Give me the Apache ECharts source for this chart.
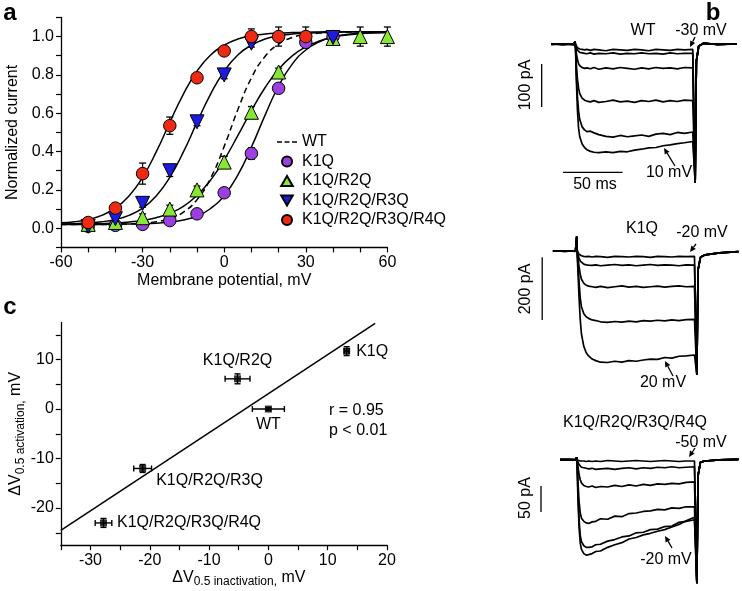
<!DOCTYPE html>
<html><head><meta charset="utf-8">
<script src="https://cdn.jsdelivr.net/npm/echarts@6/dist/echarts.min.js"></script>
<style>html,body{margin:0;padding:0;background:#fff}#c{width:742px;height:591px}</style>
</head><body><div id="c"></div>
<script>
const FONT = "'Liberation Sans', Arial, Helvetica, sans-serif";

// ---------- Panel a: normalized current vs membrane potential ----------
const vSteps = [-50,-40,-30,-20,-10,0,10,20,30,40,50,60];
const k1q          = [0.01,0.015,0.02,0.04,0.075,0.185,0.39,0.73,0.97,1.0,null,null];
const k1qErr       = [0.01,0.01,0.01,0.01,0.01,0.015,0.03,0.02,0.02,0.02,null,null];
const k1qR2q       = [0.02,0.03,0.055,0.10,0.20,0.345,0.605,0.815,null,0.99,1.0,1.0];
const k1qR2qErr    = [0.01,0.01,0.02,0.02,0.02,0.03,0.03,0.02,null,0.02,0.05,0.05];
const k1qR2qR3q    = [0.01,0.05,0.13,0.30,0.555,0.80,0.965,null,null,0.995,null,null];
const k1qR2qR3qErr = [0.01,0.01,0.02,0.03,0.02,0.02,0.02,null,null,0.02,null,null];
const k1qR2qR3qR4q    = [0.03,0.105,0.285,0.535,0.785,0.925,1.0,1.0,1.0,null,null,null];
const k1qR2qR3qR4qErr = [0.01,0.01,0.055,0.045,0.02,0.01,0.04,0.05,0.05,null,null,null];

const vFit = [-60,-55,-50,-45,-40,-35,-30,-25,-20,-15,-10,-5,0,5,10,15,20,25,30,35,40,45,50,55,60];
const wtFit   = [0.02,0.02,0.02,0.02,0.021,0.023,0.027,0.034,0.05,0.084,0.149,0.261,0.427,0.618,0.784,0.896,0.961,0.995,1.011,1.018,1.022,1.024,1.025,1.025,1.025];
const k1qFit  = [0.02,0.02,0.02,0.02,0.021,0.022,0.023,0.026,0.032,0.043,0.064,0.103,0.171,0.277,0.423,0.589,0.742,0.856,0.93,0.973,0.998,1.011,1.018,1.021,1.023];
const k1qR2qFit = [0.021,0.022,0.023,0.024,0.027,0.033,0.041,0.055,0.078,0.114,0.171,0.251,0.357,0.483,0.614,0.733,0.829,0.899,0.946,0.977,0.996,1.008,1.015,1.019,1.021];
const k1qR2qR3qFit = [0.022,0.024,0.028,0.034,0.046,0.067,0.105,0.168,0.265,0.398,0.552,0.7,0.82,0.904,0.955,0.987,1.004,1.013,1.018,1.021,1.023,1.024,1.025,1.025,1.025];
const k1qR2qR3qR4qFit = [0.028,0.034,0.046,0.067,0.105,0.168,0.265,0.398,0.552,0.7,0.82,0.904,0.955,0.987,1.004,1.013,1.018,1.021,1.023,1.024,1.025,1.025,1.025,1.025,1.025];

// ---------- Panel c: dV0.5 activation vs dV0.5 inactivation ----------
const cNames   = ['K1Q','K1Q/R2Q','WT','K1Q/R2Q/R3Q','K1Q/R2Q/R3Q/R4Q'];
const dInact    = [13.2,-5.2,0,-21.2,-27.8];
const dInactErr = [0.4,2.1,2.7,1.5,1.4];
const dAct      = [11.7,6.1,0,-12,-23];
const dActErr   = [0.9,1.0,0.3,0.8,0.9];
const regLine   = [[-35,-24.5],[18,17.3]];

// ---------- Panel b: current traces (time ms, current pA) ----------
const tWT = [-20,-10,-1,0,0.5,1,2,3,4,6,8,10,13,16,20,26,32,38,44,50,56,62,68,74,80,86,92,99,100,101,102,104,108,120,136];
const wt1 = [1,-1,1,6,0,-4,-8,-10,-11,-12,-13,-12,-14,-12,-13,-15,-12,-13,-14,-12,-13,-15,-12,-13,-14,-12,-13,-12,-12,-322,-40,-4,3,-1,1];
const wt2 = [0,1,-1,6,-1,-7,-13,-17,-19,-20,-21,-22,-20,-23,-21,-22,-20,-23,-21,-22,-20,-22,-21,-23,-20,-22,-21,-21,-21,-322,-40,-4,2,0,1];
const wt3 = [1,0,1,6,-4,-18,-35,-45,-50,-54,-56,-55,-57,-54,-58,-55,-57,-54,-56,-58,-55,-57,-54,-56,-55,-57,-54,-55,-55,-322,-40,-4,2,0,1];
const wt4 = [0,1,0,6,-8,-40,-80,-102,-115,-125,-130,-132,-134,-131,-135,-133,-130,-134,-132,-135,-131,-133,-130,-134,-131,-133,-130,-131,-131,-322,-40,-4,2,0,1];
const wt5 = [1,-1,1,6,-10,-60,-120,-155,-175,-192,-199,-203,-202,-206,-210,-214,-216,-212,-215,-213,-211,-214,-209,-207,-210,-205,-207,-204,-204,-322,-40,-4,2,0,1];
const wt6 = [0,1,-1,6,-12,-70,-150,-195,-215,-232,-240,-245,-249,-251,-252,-250,-252,-249,-250,-246,-244,-241,-240,-236,-234,-231,-229,-226,-226,-322,-40,-4,2,0,1];
const wtScaleV = [[-28,-46],[-28,-146]];
const wtScaleH = [[-10,-298],[40,-298]];

const tK1Q = [-20,-10,-1,0,0.5,1,2,3,4,6,8,10,13,16,20,26,32,38,44,50,56,62,68,74,80,86,92,99,100,101,102,104,108,120,136];
const kq1 = [1,-1,1,46,0,-5,-10,-13,-15,-17,-18,-17,-19,-17,-18,-20,-17,-18,-19,-17,-18,-20,-17,-18,-19,-17,-18,-17,-17,-396,-60,-20,-12,-6,-2];
const kq2 = [0,1,-1,46,-2,-10,-22,-32,-38,-42,-44,-45,-46,-44,-47,-45,-43,-46,-44,-47,-45,-43,-46,-44,-45,-47,-44,-45,-45,-396,-60,-20,-12,-6,-2];
const kq3 = [1,0,1,46,-4,-20,-50,-75,-90,-103,-109,-112,-114,-116,-113,-117,-114,-111,-115,-113,-116,-114,-112,-115,-113,-111,-114,-113,-113,-396,-60,-20,-12,-6,-2];
const kq4 = [0,1,0,46,-8,-40,-100,-150,-178,-200,-210,-215,-220,-222,-226,-228,-225,-227,-224,-226,-222,-224,-221,-223,-220,-222,-219,-218,-218,-396,-60,-20,-12,-6,-2];
const kq5 = [1,-1,1,46,-20,-60,-150,-220,-265,-305,-325,-335,-345,-350,-355,-356,-352,-355,-350,-352,-348,-345,-346,-340,-342,-336,-335,-332,-332,-396,-60,-20,-12,-6,-2];
const kqScaleV = [[-29,-20],[-29,-220]];

const tR4Q = [-14,-10,-1,0,0.5,1,2,3,4,6,8,10,13,16,20,26,32,38,44,50,56,62,68,74,80,86,92,99,100,101,102,104,108,120,136];
const rq1 = [0,1,0,5,0,-1,-2,-2,-3,-2,-3,-2,-3,-2,-3,-1,-2,-3,-2,-1,-2,-3,-2,-1,-2,-3,-2,-2,-2,-237,-30,-4,-2,0,1];
const rq2 = [1,0,1,5,-1,-4,-9,-12,-14,-15,-16,-17,-16,-18,-17,-16,-18,-16,-15,-17,-15,-16,-14,-15,-13,-15,-14,-13,-13,-237,-30,-4,-2,0,1];
const rq3 = [0,1,0,5,-3,-12,-28,-38,-44,-49,-51,-52,-50,-53,-51,-52,-49,-51,-48,-50,-47,-49,-46,-47,-45,-46,-43,-42,-42,-237,-30,-4,-2,0,1];
const rq4 = [1,0,1,5,-10,-40,-80,-102,-112,-118,-121,-122,-119,-118,-113,-114,-108,-109,-103,-102,-99,-98,-95,-96,-92,-93,-90,-90,-90,-237,-30,-4,-2,0,1];
const rq5 = [0,1,0,5,-18,-60,-115,-145,-157,-165,-168,-168,-167,-163,-162,-156,-153,-148,-146,-140,-139,-134,-133,-128,-127,-120,-118,-115,-115,-237,-30,-4,-2,0,1];
const rq6 = [1,0,1,5,-20,-70,-130,-160,-172,-180,-183,-182,-180,-176,-175,-168,-163,-159,-152,-149,-144,-141,-137,-134,-129,-124,-117,-110,-110,-237,-30,-4,-2,0,1];
const rqScaleV = [[-30,-50],[-30,-100]];

// ---------- helpers ----------
const pairs = (xs, ys, es) => xs.map((x,i)=> es ? [x, ys[i], es[i]] : [x, ys[i]]).filter(d => d[1] !== null);
const txt = {color:'#000', fontFamily:FONT, fontSize:16};
const axLine = {show:true, onZero:false, lineStyle:{color:'#000', width:1.3}};
const axTick = {show:true, inside:false, length:5, lineStyle:{color:'#000', width:1.2}};

function vErr(params, api){
  const x = api.value(0), y = api.value(1), e = api.value(2);
  const lo = api.coord([x, y - e]), hi = api.coord([x, y + e]);
  const w = 3.5, st = {stroke:'#000', lineWidth:1.3};
  return {type:'group', children:[
    {type:'line', shape:{x1:lo[0],y1:lo[1],x2:hi[0],y2:hi[1]}, style:st},
    {type:'line', shape:{x1:lo[0]-w,y1:lo[1],x2:lo[0]+w,y2:lo[1]}, style:st},
    {type:'line', shape:{x1:hi[0]-w,y1:hi[1],x2:hi[0]+w,y2:hi[1]}, style:st}
  ]};
}
function xyErr(params, api){
  const x = api.value(0), y = api.value(1), ex = api.value(2), ey = api.value(3);
  const l = api.coord([x-ex, y]), r = api.coord([x+ex, y]);
  const b = api.coord([x, y-ey]), t = api.coord([x, y+ey]);
  const w = 3, st = {stroke:'#000', lineWidth:1.4};
  return {type:'group', children:[
    {type:'line', shape:{x1:l[0],y1:l[1],x2:r[0],y2:r[1]}, style:st},
    {type:'line', shape:{x1:l[0],y1:l[1]-w,x2:l[0],y2:l[1]+w}, style:st},
    {type:'line', shape:{x1:r[0],y1:r[1]-w,x2:r[0],y2:r[1]+w}, style:st},
    {type:'line', shape:{x1:b[0],y1:b[1],x2:t[0],y2:t[1]}, style:st},
    {type:'line', shape:{x1:b[0]-w,y1:b[1],x2:b[0]+w,y2:b[1]}, style:st},
    {type:'line', shape:{x1:t[0]-w,y1:t[1],x2:t[0]+w,y2:t[1]}, style:st}
  ]};
}
function arrow(x1,y1,x2,y2){
  const dx = x2-x1, dy = y2-y1, L = Math.hypot(dx,dy), ux = dx/L, uy = dy/L;
  const bx = x2 - ux*6, by = y2 - uy*6;
  return [
    {type:'line', shape:{x1,y1,x2:bx,y2:by}, style:{stroke:'#000', lineWidth:1.3}},
    {type:'polygon', shape:{points:[[x2,y2],[bx-uy*2.8,by+ux*2.8],[bx+uy*2.8,by-ux*2.8]]}, style:{fill:'#000'}}
  ];
}
function label(text, x, y, opts){
  return Object.assign({type:'text', x, y, style:Object.assign({text, font:'16px '+FONT, fill:'#000', align:'center', verticalAlign:'middle'}, (opts&&opts.style)||{})}, (opts&&opts.el)||{});
}
const fitLine = (name, ys, dashed) => ({
  type:'line', name, xAxisIndex:0, yAxisIndex:0, data:pairs(vFit, ys), smooth:true, symbol:'none', silent:true,
  itemStyle:{color:'#000'},
  lineStyle:{color:'#000', width:1.5, type: dashed ? [6,4] : 'solid'}, z:2
});
const errSeries = (ys, es) => ({
  type:'custom', xAxisIndex:0, yAxisIndex:0, renderItem:vErr, data:pairs(vSteps, ys, es).filter(d=>d[2]!==null),
  encode:{x:0, y:1}, silent:true, z:3
});
const scat = (name, ys, color, symbol, rot) => ({
  type:'scatter', name, xAxisIndex:0, yAxisIndex:0, data:pairs(vSteps, ys), symbol, symbolSize: symbol==='circle' ? 12.5 : 14,
  symbolRotate: rot || 0, itemStyle:{color, borderColor:'#000', borderWidth:1, opacity:1}, z:4
});
const trace = (ax, ts, vs) => ({
  type:'line', xAxisIndex:ax, yAxisIndex:ax, data:pairs(ts, vs), symbol:'none', silent:true,
  lineStyle:{color:'#000', width:1.7}, z:2
});
const bar = (ax, pts) => ({
  type:'line', xAxisIndex:ax, yAxisIndex:ax, data:pts, symbol:'none', silent:true,
  lineStyle:{color:'#000', width:1.3}, z:2
});

const subRich = {
  d:{fontSize:16, fontFamily:FONT, color:'#000', verticalAlign:'middle', lineHeight:22},
  s:{fontSize:12, fontFamily:FONT, color:'#000', verticalAlign:'bottom', lineHeight:22}
};
const cLabelPos = [
  {position:'right', distance:6},
  {position:'top', distance:7},
  {position:'bottom', distance:4},
  {position:'right', distance:10, offset:[0,12]},
  {position:'right', distance:10}
];

const chart = echarts.init(document.getElementById('c'), null, {renderer:'canvas'});
chart.setOption({
  animation:false,
  backgroundColor:'#fff',
  textStyle:{fontFamily:FONT},
  grid:[
    {left:61, top:17.4, width:326.4, height:230},
    {left:60.8, top:322.4, width:326.2, height:222.8},
    {left:539.3, top:20.2, width:197.5, height:170.3},
    {left:541, top:226, width:197.5, height:162.8},
    {left:541, top:440.2, width:197.5, height:149.8}
  ],
  xAxis:[
    {gridIndex:0, type:'value', min:-60, max:60, interval:10, axisLine:axLine, axisTick:axTick, splitLine:{show:false},
     axisLabel:Object.assign({margin:7, showMinLabel:true, showMaxLabel:true, formatter:v => (v % 30 === 0 ? String(v) : '')}, txt),
     name:'Membrane potential, mV', nameLocation:'middle', nameGap:25, nameTextStyle:txt},
    {gridIndex:1, type:'value', min:-35, max:20, interval:5, axisLine:axLine, axisTick:axTick, splitLine:{show:false},
     axisLabel:Object.assign({margin:7, showMinLabel:true, showMaxLabel:true, formatter:v => (v % 10 === 0 ? String(v) : '')}, txt),
     name:'{d|ΔV}{s|0.5 inactivation,}{d| mV}', nameLocation:'middle', nameGap:20,
     nameTextStyle:{rich:subRich, padding:[0,0,0,30]}},
    {gridIndex:2, type:'value', min:-30, max:136, show:false},
    {gridIndex:3, type:'value', min:-30, max:136, show:false},
    {gridIndex:4, type:'value', min:-30, max:136, show:false}
  ],
  yAxis:[
    {gridIndex:0, type:'value', min:-0.1, max:1.1, interval:0.1, axisLine:axLine, axisTick:axTick, splitLine:{show:false},
     axisLabel:Object.assign({margin:7, formatter:v => { const r = Math.round(v*10); return (r >= 0 && r % 2 === 0) ? (r/10).toFixed(1) : ''; }}, txt),
     name:'Normalized current', nameLocation:'middle', nameGap:40, nameTextStyle:txt},
    {gridIndex:1, type:'value', min:-27.5, max:17.5, axisLine:axLine, splitLine:{show:false},
     axisTick:Object.assign({customValues:[-25,-20,-15,-10,-5,0,5,10,15]}, axTick),
     axisLabel:Object.assign({margin:7, customValues:[-20,-10,0,10]}, txt),
     name:'{d|ΔV}{s|0.5 activation,}{d| mV}', nameLocation:'middle', nameGap:32,
     nameTextStyle:{rich:subRich}},
    {gridIndex:2, type:'value', min:-340, max:56, show:false},
    {gridIndex:3, type:'value', min:-440, max:80, show:false},
    {gridIndex:4, type:'value', min:-250, max:38, show:false}
  ],
  legend:{
    data:[
      {name:'WT', icon:'path://M0,0h5v1.3h-5zM7.5,0h5v1.3h-5zM15,0h5v1.3h-5z', itemStyle:{color:'#000'}},
      {name:'K1Q', icon:'circle'},
      {name:'K1Q/R2Q', icon:'path://M5,0L10,8.66L0,8.66Z'},
      {name:'K1Q/R2Q/R3Q', icon:'path://M0,0L10,0L5,8.66Z'},
      {name:'K1Q/R2Q/R3Q/R4Q', icon:'circle'}
    ],
    orient:'vertical', left:272, top:129, itemWidth:20, itemHeight:10, itemGap:3.5, itemTextGap:3,
    selectedMode:false, textStyle:txt
  },
  series:[
    fitLine('WT', wtFit, true),
    fitLine('fitK1Q', k1qFit),
    fitLine('fitK1QR2Q', k1qR2qFit),
    fitLine('fitK1QR2QR3Q', k1qR2qR3qFit),
    fitLine('fitK1QR2QR3QR4Q', k1qR2qR3qR4qFit),
    errSeries(k1q, k1qErr),
    errSeries(k1qR2q, k1qR2qErr),
    errSeries(k1qR2qR3q, k1qR2qR3qErr),
    errSeries(k1qR2qR3qR4q, k1qR2qR3qR4qErr),
    scat('K1Q', k1q, '#9b3fe0', 'circle'),
    scat('K1Q/R2Q', k1qR2q, '#86e832', 'triangle'),
    scat('K1Q/R2Q/R3Q', k1qR2qR3q, '#1c1ce0', 'triangle', 180),
    scat('K1Q/R2Q/R3Q/R4Q', k1qR2qR3qR4q, '#f02a12', 'circle'),
    // panel c
    {type:'line', xAxisIndex:1, yAxisIndex:1, data:regLine, symbol:'none', silent:true, lineStyle:{color:'#000', width:1.5}, z:2},
    {type:'custom', xAxisIndex:1, yAxisIndex:1, renderItem:xyErr, encode:{x:0,y:1}, silent:true, z:3,
     data:dInact.map((x,i)=>[x, dAct[i], dInactErr[i], dActErr[i]])},
    {type:'scatter', xAxisIndex:1, yAxisIndex:1, symbol:'rect', symbolSize:[7,7], itemStyle:{color:'#000'}, z:4, silent:true,
     label:{show:true, formatter:'{b}', color:'#000', fontFamily:FONT, fontSize:16, textBorderWidth:0, opacity:1},
     data:dInact.map((x,i)=>({value:[x, dAct[i]], name:cNames[i], label:cLabelPos[i]}))},
    // panel b traces
    trace(2,tWT,wt1), trace(2,tWT,wt2), trace(2,tWT,wt3), trace(2,tWT,wt4), trace(2,tWT,wt5), trace(2,tWT,wt6),
    bar(2, wtScaleV), bar(2, wtScaleH),
    trace(3,tK1Q,kq1), trace(3,tK1Q,kq2), trace(3,tK1Q,kq3), trace(3,tK1Q,kq4), trace(3,tK1Q,kq5),
    bar(3, kqScaleV),
    trace(4,tR4Q,rq1), trace(4,tR4Q,rq2), trace(4,tR4Q,rq3), trace(4,tR4Q,rq4), trace(4,tR4Q,rq5), trace(4,tR4Q,rq6),
    bar(4, rqScaleV)
  ],
  graphic:[
    label('a', 10, 13, {style:{font:'bold 24px '+FONT}}),
    label('b', 713, 13, {style:{font:'bold 24px '+FONT}}),
    label('c', 10, 307, {style:{font:'bold 24px '+FONT}}),
    label('r = 0.95', 329, 411, {style:{align:'left'}}),
    label('p < 0.01', 329, 431, {style:{align:'left'}}),
    label('WT', 643, 31),
    label('-30 mV', 701, 31),
    label('10 mV', 669, 173),
    label('50 ms', 595, 185),
    label('100 pA', 526, 85, {el:{rotation:Math.PI/2}}),
    label('K1Q', 642, 229),
    label('-20 mV', 702, 233),
    label('20 mV', 663, 383),
    label('200 pA', 526, 289, {el:{rotation:Math.PI/2}}),
    label('K1Q/R2Q/R3Q/R4Q', 635, 423),
    label('-50 mV', 701, 443),
    label('-20 mV', 666, 560),
    label('50 pA', 526, 498, {el:{rotation:Math.PI/2}}),
    ...arrow(695,37,690,47),
    ...arrow(675,166,664,148),
    ...arrow(696,244,690,252),
    ...arrow(673,376,665,361),
    ...arrow(695,448,689,457),
    ...arrow(672,548,665,536)
  ]
});
</script></body></html>
